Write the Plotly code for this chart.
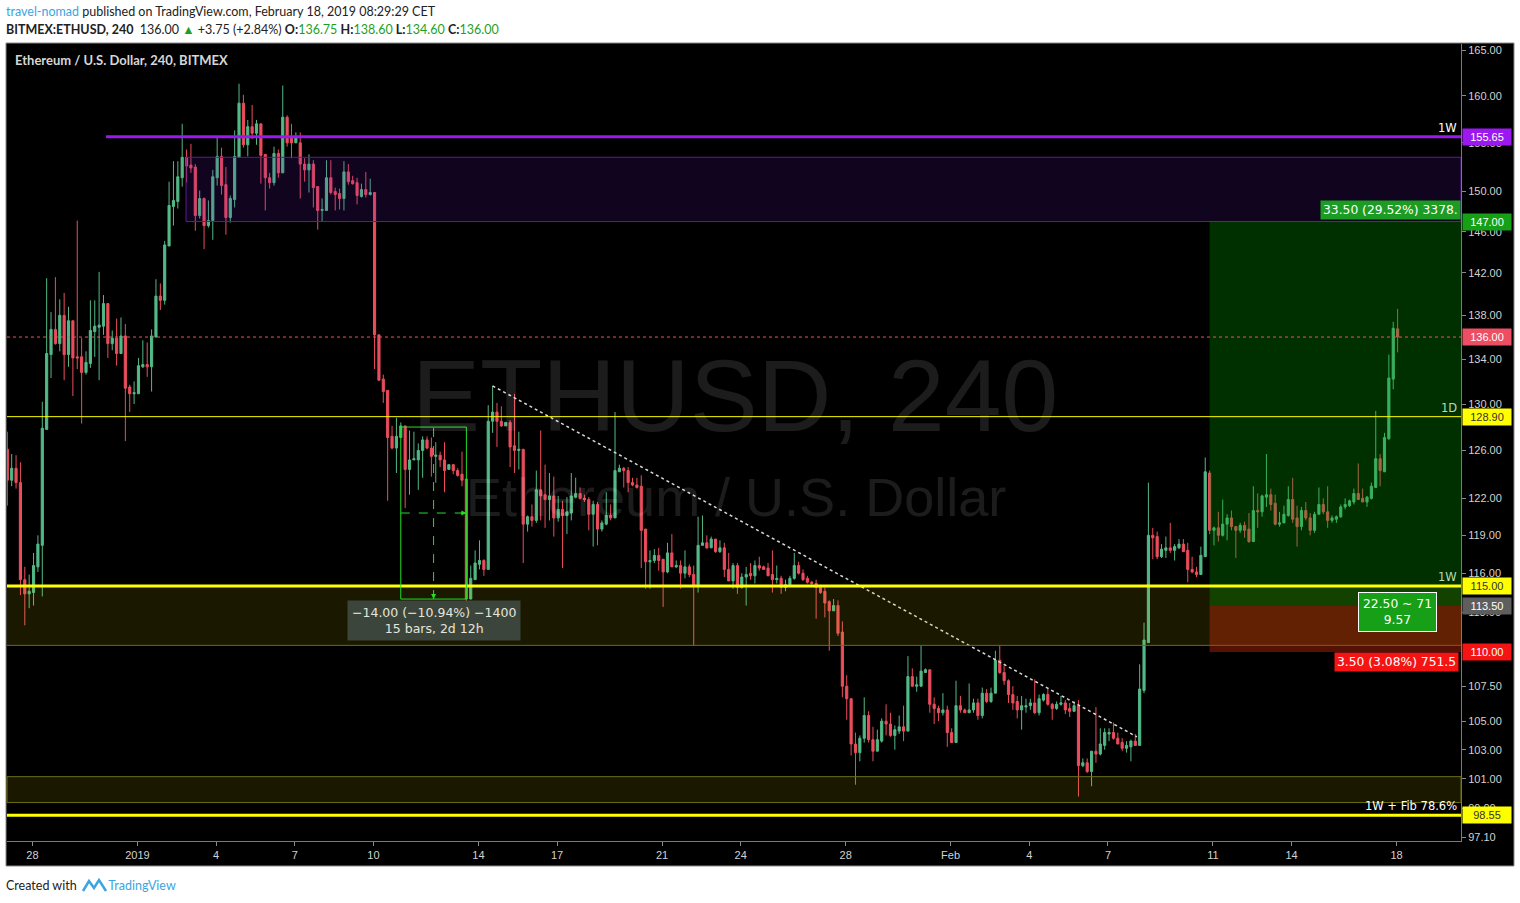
import math
import pandas as pd
import plotly.graph_objects as go

# 4h ETHUSD candles (first bar 27 Dec 2018)
opens = [126.1, 123.5, 124.5, 123.3, 115.5, 114.4, 114.5, 116.5, 118.2, 127.8,
         134.4, 136.7, 135.4, 138.0, 134.4, 137.5, 134.2, 134.2, 132.8, 133.6,
         136.5, 136.9, 137.0, 139.1, 135.4, 135.9, 134.5, 136.1, 131.5, 130.9,
         130.9, 133.3, 133.5, 133.3, 136.0, 139.8, 139.4, 144.6, 148.5, 149.0,
         151.4, 153.5, 152.7, 152.5, 147.6, 149.3, 146.6, 147.1, 151.4, 153.6,
         150.7, 147.4, 149.2, 153.5, 159.2, 154.8, 156.7, 156.0, 157.0, 153.8,
         151.4, 150.9, 153.9, 151.9, 157.7, 155.5, 155.0, 155.0, 152.8, 152.2,
         152.8, 150.5, 148.1, 148.1, 151.4, 150.0, 149.8, 149.3, 152.0, 151.1,
         150.9, 149.5, 150.2, 149.7, 149.9, 136.2, 132.2, 131.2, 127.2, 126.2,
         127.1, 128.1, 124.4, 125.2, 125.2, 126.0, 126.9, 126.2, 125.5, 125.6,
         125.2, 124.4, 124.8, 124.3, 124.0, 123.6, 114.0, 115.5, 116.7, 117.0,
         116.3, 128.5, 129.3, 128.5, 128.1, 128.4, 126.4, 126.0, 126.1, 119.9,
         120.5, 120.2, 122.7, 122.3, 121.9, 122.2, 120.4, 121.1, 120.6, 120.8,
         122.1, 122.4, 122.0, 121.9, 120.7, 121.5, 119.5, 119.9, 120.6, 120.4,
         124.2, 124.5, 124.3, 123.3, 123.1, 123.0, 119.5, 116.9, 117.0, 117.4,
         117.1, 116.1, 117.6, 116.5, 116.6, 116.0, 116.5, 115.9, 115.1, 118.2,
         118.4, 118.0, 118.7, 117.7, 118.0, 116.3, 115.4, 116.6, 114.9, 115.7,
         116.0, 115.8, 116.6, 116.5, 116.4, 115.9, 115.5, 115.6, 114.9, 115.1,
         115.6, 116.6, 116.0, 115.6, 115.3, 115.2, 114.9, 114.6, 113.8, 113.1,
         113.5, 111.5, 107.5, 106.6, 103.4, 102.8, 103.8, 105.4, 103.7, 102.9,
         103.6, 105.0, 104.8, 104.0, 104.3, 104.6, 104.3, 108.2, 107.5, 107.5,
         108.5, 108.7, 106.2, 105.9, 105.6, 105.8, 104.2, 103.5, 106.1, 105.8,
         105.6, 105.8, 106.3, 105.4, 107.0, 106.4, 107.0, 109.4, 108.5, 107.9,
         106.9, 106.4, 105.8, 106.0, 106.1, 106.3, 105.6, 106.5, 106.9, 106.2,
         105.9, 106.2, 106.3, 105.9, 105.7, 106.1, 101.9, 102.1, 101.5, 102.9,
         102.7, 103.3, 104.1, 104.2, 103.8, 103.5, 103.1, 103.2, 103.6, 103.3,
         107.2, 110.7, 119.0, 118.9, 117.3, 117.8, 118.0, 117.8, 118.0, 118.3,
         117.8, 116.3, 116.1, 115.9, 117.3, 124.1, 119.4, 119.6, 119.0, 119.9,
         120.4, 119.7, 119.4, 119.8, 119.5, 118.5, 121.0, 120.9, 122.1, 122.3,
         121.6, 119.9, 120.0, 120.6, 121.9, 120.4, 119.7, 121.0, 120.4, 119.4,
         120.7, 121.5, 120.9, 120.2, 120.3, 120.5, 121.3, 121.4, 121.7, 122.4,
         122.0, 121.7, 122.0, 122.9, 125.3, 124.2, 127.0, 132.2, 136.75]

highs = [127.6, 125.7, 125.6, 125.0, 116.5, 115.9, 117.6, 119.0, 130.2, 141.5,
         138.3, 141.6, 139.5, 140.1, 138.8, 137.5, 147.1, 135.9, 134.7, 139.4,
         139.4, 142.1, 139.9, 139.1, 136.6, 137.7, 137.8, 137.2, 131.7, 132.0,
         134.1, 135.7, 135.5, 136.7, 141.4, 141.0, 145.1, 151.0, 153.1, 153.1,
         157.0, 154.3, 154.9, 152.8, 150.1, 149.4, 149.1, 152.2, 155.6, 154.5,
         152.5, 149.6, 156.3, 161.3, 160.1, 157.4, 159.0, 157.4, 157.0, 153.8,
         151.9, 154.6, 154.3, 161.1, 157.9, 157.0, 156.1, 156.1, 153.4, 153.8,
         153.2, 150.5, 149.3, 153.2, 153.2, 150.4, 150.3, 153.1, 152.8, 151.6,
         151.4, 150.8, 152.0, 151.3, 149.9, 136.2, 132.6, 131.2, 128.1, 128.8,
         128.4, 128.1, 127.7, 127.6, 126.6, 127.2, 127.2, 127.1, 126.7, 125.9,
         126.7, 124.8, 124.8, 124.5, 125.9, 123.6, 116.6, 117.8, 118.6, 117.1,
         129.9, 131.6, 130.1, 129.8, 128.4, 128.6, 130.9, 127.6, 126.1, 120.6,
         121.5, 124.3, 127.7, 124.8, 124.1, 123.8, 122.2, 121.8, 122.1, 124.1,
         123.7, 122.9, 122.3, 122.1, 121.8, 121.7, 120.2, 122.5, 121.5, 129.3,
         124.8, 124.6, 124.6, 123.7, 123.7, 123.9, 119.5, 117.8, 117.9, 118.0,
         117.1, 118.4, 119.1, 117.0, 117.0, 117.8, 116.7, 116.6, 120.5, 120.6,
         119.0, 118.9, 118.7, 118.6, 118.4, 117.6, 116.8, 116.8, 116.0, 116.5,
         116.8, 117.0, 117.3, 116.6, 116.8, 117.8, 116.6, 115.8, 115.5, 115.8,
         117.6, 116.9, 116.3, 115.8, 115.4, 115.5, 115.1, 114.9, 113.9, 114.0,
         113.9, 112.3, 108.3, 106.6, 104.2, 104.0, 106.7, 105.7, 104.6, 104.4,
         105.2, 106.2, 105.6, 104.7, 105.4, 106.1, 109.7, 108.8, 108.2, 110.5,
         108.8, 108.7, 106.7, 106.1, 107.0, 106.1, 104.5, 107.9, 106.8, 105.9,
         107.7, 106.6, 106.6, 107.4, 107.3, 107.4, 110.1, 110.5, 109.0, 108.0,
         107.5, 106.8, 106.8, 106.6, 106.6, 108.0, 106.9, 107.0, 107.4, 106.3,
         106.4, 106.8, 106.5, 106.3, 106.4, 106.5, 102.4, 102.4, 102.9, 106.0,
         104.5, 104.5, 104.5, 104.9, 104.2, 103.8, 103.6, 103.7, 104.1, 109.1,
         112.2, 123.3, 119.6, 119.3, 118.3, 118.9, 120.0, 118.3, 118.7, 118.7,
         118.4, 117.3, 116.5, 118.1, 125.4, 124.3, 119.7, 120.9, 121.9, 120.7,
         121.0, 119.7, 120.0, 120.1, 120.8, 123.0, 122.4, 122.3, 125.7, 122.8,
         122.3, 120.9, 121.4, 123.0, 123.7, 121.4, 121.3, 121.7, 120.8, 120.9,
         122.9, 122.0, 123.0, 120.6, 120.6, 121.5, 122.0, 121.9, 122.8, 124.9,
         122.8, 122.2, 123.3, 129.4, 125.7, 127.5, 134.4, 137.4, 138.6]

lows = [121.4, 123.0, 122.8, 114.3, 112.0, 113.3, 113.5, 116.1, 114.2, 127.8,
        132.3, 135.3, 134.7, 132.1, 133.3, 130.7, 133.1, 128.3, 132.6, 133.2,
        134.2, 132.1, 136.2, 134.1, 134.8, 133.4, 134.5, 126.8, 129.3, 130.0,
        130.9, 133.2, 132.4, 131.1, 136.0, 138.5, 139.0, 144.6, 146.6, 148.3,
        150.5, 150.9, 151.9, 146.1, 147.3, 144.3, 146.4, 145.2, 150.6, 149.7,
        145.7, 146.9, 148.4, 153.5, 154.5, 153.6, 155.4, 154.8, 150.8, 148.1,
        150.3, 150.6, 151.4, 151.9, 154.6, 153.4, 155.0, 149.3, 151.0, 149.9,
        148.4, 146.2, 147.0, 148.1, 149.7, 148.1, 148.2, 148.1, 150.7, 150.7,
        148.7, 149.4, 149.4, 149.6, 133.1, 132.1, 130.1, 121.8, 126.1, 124.1,
        127.1, 121.2, 122.3, 125.2, 122.7, 123.7, 126.1, 123.8, 123.3, 124.6,
        122.5, 124.4, 124.0, 123.8, 123.0, 113.8, 114.0, 115.5, 116.3, 115.8,
        116.3, 127.5, 126.3, 128.0, 128.1, 124.6, 124.1, 124.4, 116.8, 119.3,
        119.7, 120.0, 120.2, 119.6, 120.2, 118.9, 120.1, 116.4, 119.1, 120.2,
        122.0, 121.9, 121.7, 119.4, 118.1, 118.2, 119.3, 119.8, 120.2, 120.4,
        124.2, 122.9, 122.5, 123.0, 122.8, 116.4, 114.8, 114.8, 116.8, 116.2,
        113.4, 116.0, 116.5, 116.4, 114.8, 115.6, 115.7, 110.5, 114.5, 118.2,
        117.9, 118.0, 117.6, 117.6, 115.7, 115.4, 114.8, 114.4, 114.8, 113.5,
        115.5, 115.2, 116.2, 116.3, 115.8, 114.5, 115.2, 114.4, 114.6, 115.0,
        115.5, 115.9, 115.4, 115.2, 115.1, 112.5, 114.4, 112.6, 110.1, 113.1,
        111.2, 106.7, 105.1, 102.6, 100.6, 102.2, 103.5, 103.5, 102.2, 102.9,
        103.5, 104.0, 103.9, 103.0, 104.1, 103.6, 104.3, 107.5, 107.1, 107.5,
        108.5, 105.6, 104.8, 105.0, 105.4, 103.2, 103.5, 103.5, 105.6, 105.6,
        105.6, 105.6, 105.1, 105.2, 106.3, 106.3, 107.0, 108.4, 107.6, 106.3,
        105.8, 105.2, 104.4, 105.6, 105.8, 105.5, 105.4, 106.4, 106.1, 105.1,
        105.8, 106.1, 105.5, 105.3, 105.7, 99.8, 101.8, 101.4, 100.5, 102.1,
        102.6, 103.0, 103.6, 103.7, 103.4, 102.9, 102.8, 102.2, 103.3, 103.3,
        107.0, 110.7, 117.1, 117.1, 117.2, 117.2, 117.6, 117.0, 117.9, 117.7,
        115.3, 116.0, 115.7, 115.9, 117.3, 119.1, 118.2, 118.5, 118.9, 118.6,
        119.4, 117.2, 119.2, 118.8, 118.4, 118.5, 119.6, 120.5, 121.3, 121.0,
        119.8, 119.7, 120.0, 120.5, 120.0, 118.1, 119.4, 120.2, 119.0, 119.2,
        120.7, 120.7, 119.6, 120.0, 120.0, 120.4, 121.1, 121.3, 121.5, 121.9,
        121.7, 121.3, 121.9, 122.9, 123.0, 124.2, 126.9, 131.3, 134.6]

closes = [123.5, 124.5, 123.3, 115.5, 114.4, 114.6, 116.6, 118.3, 127.9, 134.5,
          136.7, 135.4, 138.0, 134.4, 137.5, 134.1, 134.1, 132.8, 133.7, 136.6,
          137.0, 137.1, 139.1, 135.4, 135.9, 134.5, 136.1, 131.4, 130.9, 131.0,
          133.4, 133.5, 133.3, 136.1, 139.8, 139.4, 144.7, 148.6, 149.1, 151.5,
          153.5, 152.6, 152.4, 147.6, 149.3, 146.6, 147.1, 151.5, 153.6, 150.6,
          147.4, 149.3, 153.6, 159.2, 154.8, 156.7, 156.0, 157.0, 153.7, 151.4,
          150.9, 153.9, 151.9, 157.7, 155.0, 155.0, 155.5, 152.8, 152.2, 152.8,
          150.4, 148.1, 148.2, 151.4, 149.9, 149.7, 149.3, 152.0, 151.0, 150.8,
          149.6, 150.2, 149.7, 149.9, 136.2, 132.1, 131.1, 127.1, 126.2, 127.2,
          128.1, 124.4, 125.2, 125.3, 126.0, 126.9, 126.2, 125.5, 125.6, 125.2,
          124.3, 124.8, 124.3, 123.9, 123.5, 114.0, 115.6, 116.8, 117.0, 116.3,
          128.5, 129.3, 128.5, 128.1, 128.4, 126.3, 126.0, 126.1, 119.9, 120.5,
          120.2, 122.7, 122.2, 121.9, 122.2, 120.4, 121.1, 120.6, 120.9, 122.2,
          122.4, 122.0, 121.9, 120.7, 121.5, 119.5, 120.0, 120.6, 120.4, 124.3,
          124.5, 124.3, 123.3, 123.1, 122.9, 119.4, 116.9, 117.0, 117.4, 117.0,
          116.1, 117.6, 116.5, 116.6, 116.0, 116.5, 115.9, 115.0, 118.2, 118.4,
          118.0, 118.7, 117.7, 118.0, 116.3, 115.4, 116.6, 114.9, 115.7, 115.9,
          115.8, 116.6, 116.4, 116.3, 115.8, 115.5, 115.6, 114.9, 115.1, 115.6,
          116.6, 116.0, 115.5, 115.3, 115.2, 114.9, 114.5, 113.7, 113.1, 113.5,
          111.4, 107.5, 106.6, 103.4, 102.8, 103.8, 105.4, 103.7, 102.9, 103.7,
          105.0, 104.8, 104.0, 104.4, 104.6, 104.3, 108.2, 107.5, 107.6, 108.6,
          108.7, 106.2, 105.9, 105.6, 105.8, 104.2, 103.5, 106.1, 105.8, 105.6,
          105.8, 106.3, 105.4, 107.0, 106.4, 107.0, 109.4, 108.5, 107.9, 106.9,
          106.3, 105.8, 106.1, 106.1, 106.3, 105.6, 106.6, 106.9, 106.2, 105.9,
          106.2, 106.3, 105.8, 105.7, 106.1, 101.9, 102.1, 101.5, 102.9, 102.7,
          103.4, 104.2, 104.2, 103.8, 103.4, 103.1, 103.3, 103.6, 103.3, 107.3,
          110.9, 119.0, 118.8, 117.3, 117.9, 118.0, 117.8, 118.1, 118.3, 117.7,
          116.3, 116.1, 115.9, 117.4, 124.2, 119.4, 119.6, 119.0, 119.9, 120.4,
          119.7, 119.4, 119.8, 119.4, 118.5, 121.0, 120.9, 122.2, 122.3, 121.5,
          119.9, 120.0, 120.7, 121.9, 120.3, 119.7, 121.0, 120.4, 119.4, 120.7,
          121.5, 120.9, 120.2, 120.4, 120.5, 121.3, 121.5, 121.8, 122.4, 121.9,
          121.7, 122.1, 123.0, 125.3, 124.3, 127.1, 132.3, 136.8, 136.0]

bar_times = pd.date_range("2018-12-27 01:00", periods=len(opens), freq="4h")

# 110.00 is left out: its tick label sits entirely under the red stop label
price_ticks = [97.1, 99, 101, 103, 105, 107.5, 113, 116, 119, 122,
               126, 130, 134, 138, 142, 146, 150, 155, 160, 165]
date_ticks = ["2018-12-28", "2019-01-01", "2019-01-04", "2019-01-07", "2019-01-10",
              "2019-01-14", "2019-01-17", "2019-01-21", "2019-01-24", "2019-01-28",
              "2019-02-01", "2019-02-04", "2019-02-07", "2019-02-11", "2019-02-14",
              "2019-02-18"]
date_labels = ["28", "2019", "4", "7", "10", "14", "17", "21", "24", "28",
               "Feb", "4", "7", "11", "14", "18"]

# plot area in pixels
L, R, T, B = 7, 1461, 44, 841
X_END = "2019-02-20 11:00"
TV_FONT = "DejaVu Sans"


def px(x):
    return (x - L) / (R - L)


def py(y):
    return (B - y) / (B - T)


def ly(p):
    return math.log10(p)


fig = go.Figure()
fig.add_trace(go.Candlestick(
    x=bar_times, open=opens, high=highs, low=lows, close=closes,
    increasing=dict(line=dict(color="#53b987", width=1), fillcolor="#53b987"),
    decreasing=dict(line=dict(color="#eb4d5c", width=1), fillcolor="#eb4d5c"),
    whiskerwidth=0, showlegend=False,
))

# descending trendline
fig.add_trace(go.Scatter(
    x=["2019-01-14 13:00", "2019-02-08 02:30"], y=[131.6, 103.9],
    mode="lines", line=dict(color="#d8d8d8", width=1.5, dash="dot"),
    showlegend=False, hoverinfo="skip",
))

shapes = [
    # dark chart frame incl. axis strips
    dict(type="rect", xref="paper", yref="paper", x0=px(6), x1=px(1514), y0=py(866), y1=py(43),
         fillcolor="black", line=dict(color="#8a8a8a", width=1), layer="below"),
    # purple supply zone + 1W line
    dict(type="rect", xref="x", yref="y", x0="2019-01-02 20:30", x1=X_END, y0=147.0, y1=153.5,
         fillcolor="rgba(110,30,200,0.15)", line=dict(color="#5c1a9e", width=1), layer="above"),
    dict(type="line", xref="x", yref="y", x0="2018-12-30 19:20", x1=X_END, y0=155.65, y1=155.65,
         line=dict(color="#9b18f0", width=3), layer="above"),
    # olive zones
    dict(type="rect", xref="paper", yref="y", x0=0, x1=1, y0=110.5, y1=115.0,
         fillcolor="rgba(200,190,0,0.13)", line=dict(width=0), layer="above"),
    dict(type="line", xref="paper", yref="y", x0=0, x1=1, y0=110.5, y1=110.5,
         line=dict(color="#6e6e14", width=1), layer="above"),
    dict(type="rect", xref="paper", yref="y", x0=0, x1=1, y0=99.4, y1=101.15,
         fillcolor="rgba(200,190,0,0.13)", line=dict(color="#6e6e14", width=1), layer="above"),
    # long position tool
    dict(type="rect", xref="x", yref="y", x0="2019-02-10 21:00", x1=X_END, y0=113.5, y1=147.0,
         fillcolor="rgba(0,160,0,0.30)", line=dict(width=0), layer="above"),
    dict(type="rect", xref="x", yref="y", x0="2019-02-10 21:00", x1=X_END, y0=110.0, y1=113.5,
         fillcolor="rgba(210,45,10,0.40)", line=dict(width=0), layer="above"),
    # horizontal levels
    dict(type="line", xref="paper", yref="y", x0=0, x1=1, y0=136.0, y1=136.0,
         line=dict(color="#f05060", width=1, dash="dot"), layer="above"),
    dict(type="line", xref="paper", yref="y", x0=0, x1=1, y0=128.9, y1=128.9,
         line=dict(color="#ffff00", width=1), layer="above"),
    dict(type="line", xref="paper", yref="y", x0=0, x1=1, y0=115.0, y1=115.0,
         line=dict(color="#ffff00", width=3), layer="above"),
    dict(type="line", xref="paper", yref="y", x0=0, x1=1, y0=98.55, y1=98.55,
         line=dict(color="#ffff00", width=3), layer="above"),
    # date/price range measurement
    dict(type="rect", xref="x", yref="y", x0="2019-01-11 01:00", x1="2019-01-13 13:00", y0=114.0, y1=128.0,
         fillcolor="rgba(0,0,0,0)", line=dict(color="#22e022", width=1), layer="above"),
    dict(type="line", xref="x", yref="y", x0="2019-01-11 01:00", x1="2019-01-13 13:00", y0=120.8, y1=120.8,
         line=dict(color="#22e022", width=1, dash="dash"), layer="above"),
    dict(type="line", xref="x", yref="y", x0="2019-01-12 07:00", x1="2019-01-12 07:00", y0=114.0, y1=128.0,
         line=dict(color="#22e022", width=1, dash="dash"), layer="above"),
    # footer logo
    dict(type="path", xref="paper", yref="paper",
         path="M {} {} L {} {} L {} {} L {} {} L {} {}".format(
             px(83), py(891), px(89), py(881), px(94), py(888), px(99), py(880), px(106), py(891)),
         line=dict(color="#3ba5e0", width=2.5)),
]

ann = []
# watermark
ann.append(dict(xref="paper", yref="paper", x=px(735), y=py(396), text="ETHUSD, 240", showarrow=False,
                font=dict(family="Liberation Sans", size=102, color="rgba(255,255,255,0.11)")))
ann.append(dict(xref="paper", yref="paper", x=px(736), y=py(497), text="Ethereum / U.S. Dollar",
                showarrow=False, font=dict(family="Liberation Sans", size=54, color="rgba(255,255,255,0.11)")))
# header / footer
ann.append(dict(xref="paper", yref="paper", x=px(4), y=py(12), xanchor="left", yanchor="middle",
                showarrow=False, font=dict(family="Lato", size=12.5, color="#222222"),
                text="<span style='color:#3ba5e0'>travel-nomad</span> published on TradingView.com, "
                     "February 18, 2019 08:29:29 CET"))
g = "<span style='color:#1f9f1f'>{}</span>"
ann.append(dict(xref="paper", yref="paper", x=px(4), y=py(29), xanchor="left", yanchor="middle",
                showarrow=False, font=dict(family="Lato", size=12.5, color="#222222"),
                text="<b>BITMEX:ETHUSD, 240</b>  136.00 " + g.format("▲") + " +3.75 (+2.84%) "
                     "<b>O:</b>" + g.format("136.75") + " <b>H:</b>" + g.format("138.60") +
                     " <b>L:</b>" + g.format("134.60") + " <b>C:</b>" + g.format("136.00")))
ann.append(dict(xref="paper", yref="paper", x=px(4), y=py(885), xanchor="left", yanchor="middle",
                showarrow=False, font=dict(family="Lato", size=12.5, color="#222222"),
                text="Created with          <span style='color:#3ba5e0'>TradingView</span>"))
ann.append(dict(xref="paper", yref="paper", x=px(13), y=py(60), xanchor="left", yanchor="middle",
                showarrow=False, font=dict(family="Lato", size=13, color="#d6d6d6"),
                text="<b>Ethereum / U.S. Dollar, 240, BITMEX</b>"))

# price labels on the right axis
axis_labels = [
    (155.65, "#9b18f0", "white"), (147.0, "#16a016", "white"), (136.0, "#ee4e62", "white"),
    (128.9, "#ffff00", "#333333"), (115.0, "#ffff00", "#333333"), (113.5, "#5e5e5e", "white"),
    (110.0, "#f41414", "white"), (98.55, "#ffff00", "#333333"),
]
for price, bg, fg in axis_labels:
    ann.append(dict(xref="paper", yref="y", x=px(1462), y=ly(price), xanchor="left", yanchor="middle",
                    text=f"{price:.2f}", showarrow=False, bgcolor=bg, width=44, borderpad=2,
                    font=dict(family="Liberation Sans", size=11, color=fg)))

# level captions
for price, txt, col in [(155.65, "1W", "#ffffff"), (128.9, "1D", "#b4dcb4"),
                        (115.0, "1W", "#b4dcb4"), (98.55, "1W + Fib 78.6%", "#ffffff")]:
    ann.append(dict(xref="paper", yref="y", x=px(1459), y=ly(price), xanchor="right", yanchor="bottom",
                    yshift=0, text=txt, showarrow=False,
                    font=dict(family=TV_FONT, size=11.5, color=col)))

# long position labels
ann.append(dict(xref="paper", yref="paper", x=px(1461), y=py(209.5), xanchor="right", yanchor="middle",
                text="33.50 (29.52%) 3378.", showarrow=False, bgcolor="#1c9c24", borderpad=2,
                font=dict(family=TV_FONT, size=12.3, color="white")))
ann.append(dict(xref="paper", yref="paper", x=px(1459), y=py(662), xanchor="right", yanchor="middle",
                text="3.50 (3.08%) 751.5", showarrow=False, bgcolor="#f41414", borderpad=2,
                font=dict(family=TV_FONT, size=12.3, color="white")))
ann.append(dict(xref="paper", yref="paper", x=px(1397), y=py(612), xanchor="center", yanchor="middle",
                text="22.50 ~ 71<br>9.57", showarrow=False, bgcolor="#17a017", bordercolor="white",
                borderwidth=1, borderpad=4,
                font=dict(family=TV_FONT, size=12.3, color="white")))

# measurement label + arrowheads
ann.append(dict(xref="paper", yref="paper", x=px(433.5), y=py(620), xanchor="center", yanchor="middle",
                text="\u221214.00 (\u221210.94%) \u22121400<br>15 bars, 2d 12h", showarrow=False,
                bgcolor="rgba(62,72,62,0.95)", borderpad=4,
                font=dict(family=TV_FONT, size=12.5, color="#e6e6dc")))
ann.append(dict(xref="x", yref="y", x="2019-01-13 13:00", y=ly(120.8), ax=-7, ay=0, text="",
                showarrow=True, arrowhead=2, arrowsize=1, arrowwidth=1, arrowcolor="#22e022"))
ann.append(dict(xref="x", yref="y", x="2019-01-12 07:00", y=ly(114.0), ax=0, ay=-7, text="",
                showarrow=True, arrowhead=2, arrowsize=1, arrowwidth=1, arrowcolor="#22e022"))

fig.update_layout(
    template="none",
    width=1520, height=903,
    margin=dict(l=L, r=1520 - R, t=T, b=903 - B),
    paper_bgcolor="white", plot_bgcolor="black",
    showlegend=False,
    shapes=shapes, annotations=ann,
    xaxis=dict(type="date", range=["2018-12-27 00:43", X_END], rangeslider=dict(visible=False),
               tickvals=date_ticks, ticktext=date_labels, showgrid=False, zeroline=False,
               ticks="outside", ticklen=4, tickcolor="#8a8a8a", showline=True, linecolor="#7a7a7a",
               linewidth=1, automargin=False,
               tickfont=dict(family="Liberation Sans", size=11, color="#d2d2d2")),
    yaxis=dict(type="log", side="right", range=[ly(96.86), ly(165.67)], tickvals=price_ticks,
               ticktext=[f"{v:.2f}" for v in price_ticks], showgrid=False, zeroline=False,
               ticks="outside", ticklen=4, tickcolor="#8a8a8a", showline=True, linecolor="#7a7a7a",
               linewidth=1, automargin=False,
               tickfont=dict(family="Liberation Sans", size=11, color="#d2d2d2")),
)

# the page's default 8px body margin would shift the whole figure
fig.write_html("out.html", config={"displayModeBar": False},
               post_script="document.body.style.margin='0';document.body.style.overflow='hidden';")
